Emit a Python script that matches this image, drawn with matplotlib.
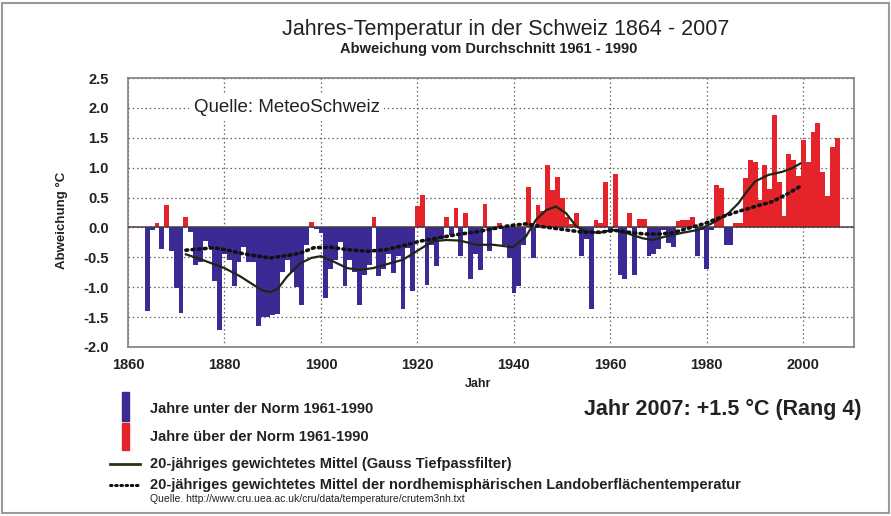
import matplotlib
matplotlib.use('Agg')
import matplotlib.pyplot as plt
import numpy as np
from matplotlib.patches import Rectangle
from matplotlib.lines import Line2D

plt.rcParams['font.family'] = ['Liberation Sans', 'DejaVu Sans']

# annual anomaly vs 1961-1990 (°C), one row per decade
years = np.arange(1864, 2008)
anomaly = [
    -1.40, -0.04, 0.07, -0.36, 0.37, -0.40,                              # 1864-69
    -1.01, -1.43, 0.18, -0.08, -0.62, -0.58, -0.22, -0.33, -0.90, -1.72,  # 1870s
    -0.45, -0.54, -0.98, -0.57, -0.32, -0.57, -0.57, -1.65, -1.50, -1.50,  # 1880s
    -1.47, -1.45, -0.75, -0.55, -0.75, -1.00, -1.29, -0.30, 0.09, -0.03,  # 1890s
    -0.10, -1.18, -0.70, -0.55, -0.25, -0.98, -0.55, -0.75, -1.29, -0.80,  # 1900s
    -0.62, 0.18, -0.82, -0.70, -0.45, -0.76, -0.48, -1.36, -0.35, -1.07,  # 1910s
    0.36, 0.54, -0.97, -0.29, -0.64, -0.20, 0.18, -0.12, 0.32, -0.48,     # 1920s
    0.24, -0.86, -0.45, -0.72, 0.40, -0.40, -0.05, 0.08, -0.29, -0.51,    # 1930s
    -1.09, -0.98, -0.29, 0.68, -0.51, 0.38, 0.27, 1.04, 0.63, 0.85,       # 1940s
    0.49, 0.18, 0.05, 0.24, -0.47, -0.20, -1.37, 0.12, 0.08, 0.76,        # 1950s
    -0.05, 0.90, -0.79, -0.87, 0.25, -0.79, 0.14, 0.14, -0.47, -0.44,     # 1960s
    -0.36, -0.05, -0.26, -0.32, 0.10, 0.13, 0.12, 0.17, -0.48, -0.04,     # 1970s
    -0.69, -0.04, 0.71, 0.66, -0.29, -0.29, 0.08, 0.08, 0.82, 1.13,       # 1980s
    1.10, 0.46, 1.04, 0.64, 1.88, 0.76, 0.19, 1.23, 1.13, 0.86,           # 1990s
    1.46, 1.10, 1.60, 1.74, 0.92, 0.53, 1.34, 1.50,                       # 2000-07
]

# 20-year Gauss low-pass (solid)
gauss_years = [1872, 1875, 1880, 1883.3, 1886, 1888, 1889.5, 1891, 1893, 1895.7,
               1898, 1900, 1902.6, 1905.4, 1908, 1910.8, 1914.3, 1917, 1919.8, 1923.2,
               1926, 1928.8, 1932.3, 1935.7, 1939.8, 1942.5, 1944.6, 1946.7, 1948.7, 1950.8,
               1952.9, 1954.9, 1957.7, 1960.4, 1963.2, 1966.6, 1968.7, 1971.5, 1974.9, 1978.3,
               1981.8, 1984.5, 1986.6, 1988, 1990, 1992.8, 1995.6, 1997.6, 1999.4]
gauss_vals = [-0.45, -0.53, -0.68, -0.82, -0.96, -1.06, -1.08, -1.03, -0.82, -0.60,
              -0.51, -0.48, -0.57, -0.68, -0.71, -0.68, -0.60, -0.54, -0.40, -0.23,
              -0.21, -0.22, -0.29, -0.29, -0.33, -0.15, 0.13, 0.29, 0.35, 0.24,
              0.02, -0.07, -0.09, -0.04, -0.09, -0.18, -0.21, -0.15, -0.09, -0.04,
              0.10, 0.24, 0.41, 0.57, 0.77, 0.88, 0.93, 0.99, 1.07]

# 20-year mean of NH land surface temperature (dotted, CRUTEM3 NH)
nh_years = [1872, 1875, 1877.8, 1880, 1883.3, 1886.8, 1889.5, 1893, 1895.7, 1898.5,
            1901.9, 1905.4, 1909.5, 1913.6, 1917.8, 1920.5, 1924, 1928.1, 1932.5, 1935.7,
            1939.1, 1942.5, 1945.3, 1948, 1950.8, 1954.2, 1957.7, 1961.1, 1964.6, 1967.3,
            1970.1, 1972.8, 1976.3, 1979.7, 1983.2, 1986.6, 1990, 1993.5, 1996.9, 1999.4]
nh_vals = [-0.38, -0.36, -0.34, -0.37, -0.43, -0.48, -0.51, -0.47, -0.43, -0.34,
           -0.33, -0.37, -0.40, -0.37, -0.29, -0.23, -0.18, -0.12, -0.07, -0.02,
           0.03, 0.06, 0.02, -0.01, -0.04, -0.08, -0.08, -0.05, -0.09, -0.11,
           -0.11, -0.09, -0.01, 0.07, 0.18, 0.27, 0.35, 0.43, 0.57, 0.69]

xticks = [1860, 1880, 1900, 1920, 1940, 1960, 1980, 2000]
yticks = [-2.0, -1.5, -1.0, -0.5, 0.0, 0.5, 1.0, 1.5, 2.0, 2.5]

BLUE = '#3b2a93'
RED = '#e4232b'
LINE = '#1e2616'
GRID = '#6e5f5f'
TXT = '#222222'
W, H = 891, 516


def fx(px):
    return px / W


def fy(py):
    return 1 - py / H


fig = plt.figure(figsize=(W / 100, H / 100), dpi=100)
ax = fig.add_axes([fx(128), fy(347), fx(854 - 128), (347 - 78) / H])

vals = np.array(anomaly)
assert len(vals) == len(years)
colors = np.where(vals < 0, BLUE, RED)
ax.bar(years, vals, width=1.0, color=colors, linewidth=0, zorder=2)
ax.axhline(0, color='#4a3a3a', lw=1.1, zorder=3)
ax.plot(gauss_years, gauss_vals, color=LINE, lw=1.6, zorder=4)
ax.plot(nh_years, nh_vals, color='#111111', lw=2.6, ls=(0, (0.5, 1.2)),
        dash_capstyle='round', zorder=4)

ax.set_xlim(1860, 2010.5)
ax.set_ylim(-2.0, 2.5)
ax.set_xticks(xticks)
ax.set_yticks(yticks)
ax.set_yticklabels([f'{v:.1f}' for v in yticks])
ax.tick_params(length=0, labelsize=10.5, colors=TXT)
ax.tick_params(axis='y', pad=14)
ax.tick_params(axis='x', pad=8)
for lab in ax.get_xticklabels() + ax.get_yticklabels():
    lab.set_fontweight('bold')
ax.set_axisbelow(True)
ax.grid(True, ls=(0, (1.2, 2.2)), color=GRID, lw=0.9)
for s in ax.spines.values():
    s.set_color('#8a7a7a')
    s.set_linewidth(1.2)

ax.text(1873.6, 2.0, 'Quelle: MeteoSchweiz', fontsize=13.5, va='center', ha='left',
        color=TXT, zorder=5, bbox=dict(fc='white', ec='none', pad=3))

fig.text(fx(506), fy(30), 'Jahres-Temperatur in der Schweiz 1864 - 2007',
         fontsize=15.5, ha='center', va='center', color=TXT)
fig.text(fx(489), fy(49), 'Abweichung vom Durchschnitt 1961 - 1990',
         fontsize=10.5, weight='bold', ha='center', va='center', color=TXT)
fig.text(fx(62), fy(220), 'Abweichung °C', rotation=90, fontsize=9.5,
         weight='bold', ha='center', va='center', color=TXT)
fig.text(fx(478), fy(384), 'Jahr', fontsize=9, weight='bold',
         ha='center', va='center', color=TXT)

# legend block below the axes
fig.patches.append(Rectangle((fx(122), fy(421)), 7 / W, 29 / H, transform=fig.transFigure,
                             color=BLUE))
fig.patches.append(Rectangle((fx(122), fy(450)), 7 / W, 27 / H, transform=fig.transFigure,
                             color=RED))
fig.lines.append(Line2D([fx(110), fx(140)], [fy(464), fy(464)], transform=fig.transFigure,
                        color='#253515', lw=2))
fig.lines.append(Line2D([fx(110), fx(140)], [fy(485), fy(485)], transform=fig.transFigure,
                        color='#111111', lw=2.2, ls=(0, (0.5, 1.2)), dash_capstyle='round'))

leg_kw = dict(fontsize=10.5, weight='bold', ha='left', va='center', color=TXT)
fig.text(fx(150), fy(409), 'Jahre unter der Norm 1961-1990', **leg_kw)
fig.text(fx(150), fy(437), 'Jahre über der Norm 1961-1990', **leg_kw)
fig.text(fx(150), fy(464), '20-jähriges gewichtetes Mittel (Gauss Tiefpassfilter)', **leg_kw)
fig.text(fx(150), fy(485),
         '20-jähriges gewichtetes Mittel der nordhemisphärischen Landoberflächentemperatur',
         **leg_kw)
fig.text(fx(150), fy(499),
         'Quelle. http://www.cru.uea.ac.uk/cru/data/temperature/crutem3nh.txt',
         fontsize=7.5, ha='left', va='center', color=TXT)
fig.text(fx(862), fy(409), 'Jahr 2007: +1.5 °C (Rang 4)', fontsize=15.5, weight='bold',
         ha='right', va='center', color=TXT)

fig.patches.append(Rectangle((fx(2), fy(513)), 887 / W, 510 / H, transform=fig.transFigure,
                             fill=False, ec='#9a9a9a', lw=1.5))

fig.savefig('out.png', dpi=100)
